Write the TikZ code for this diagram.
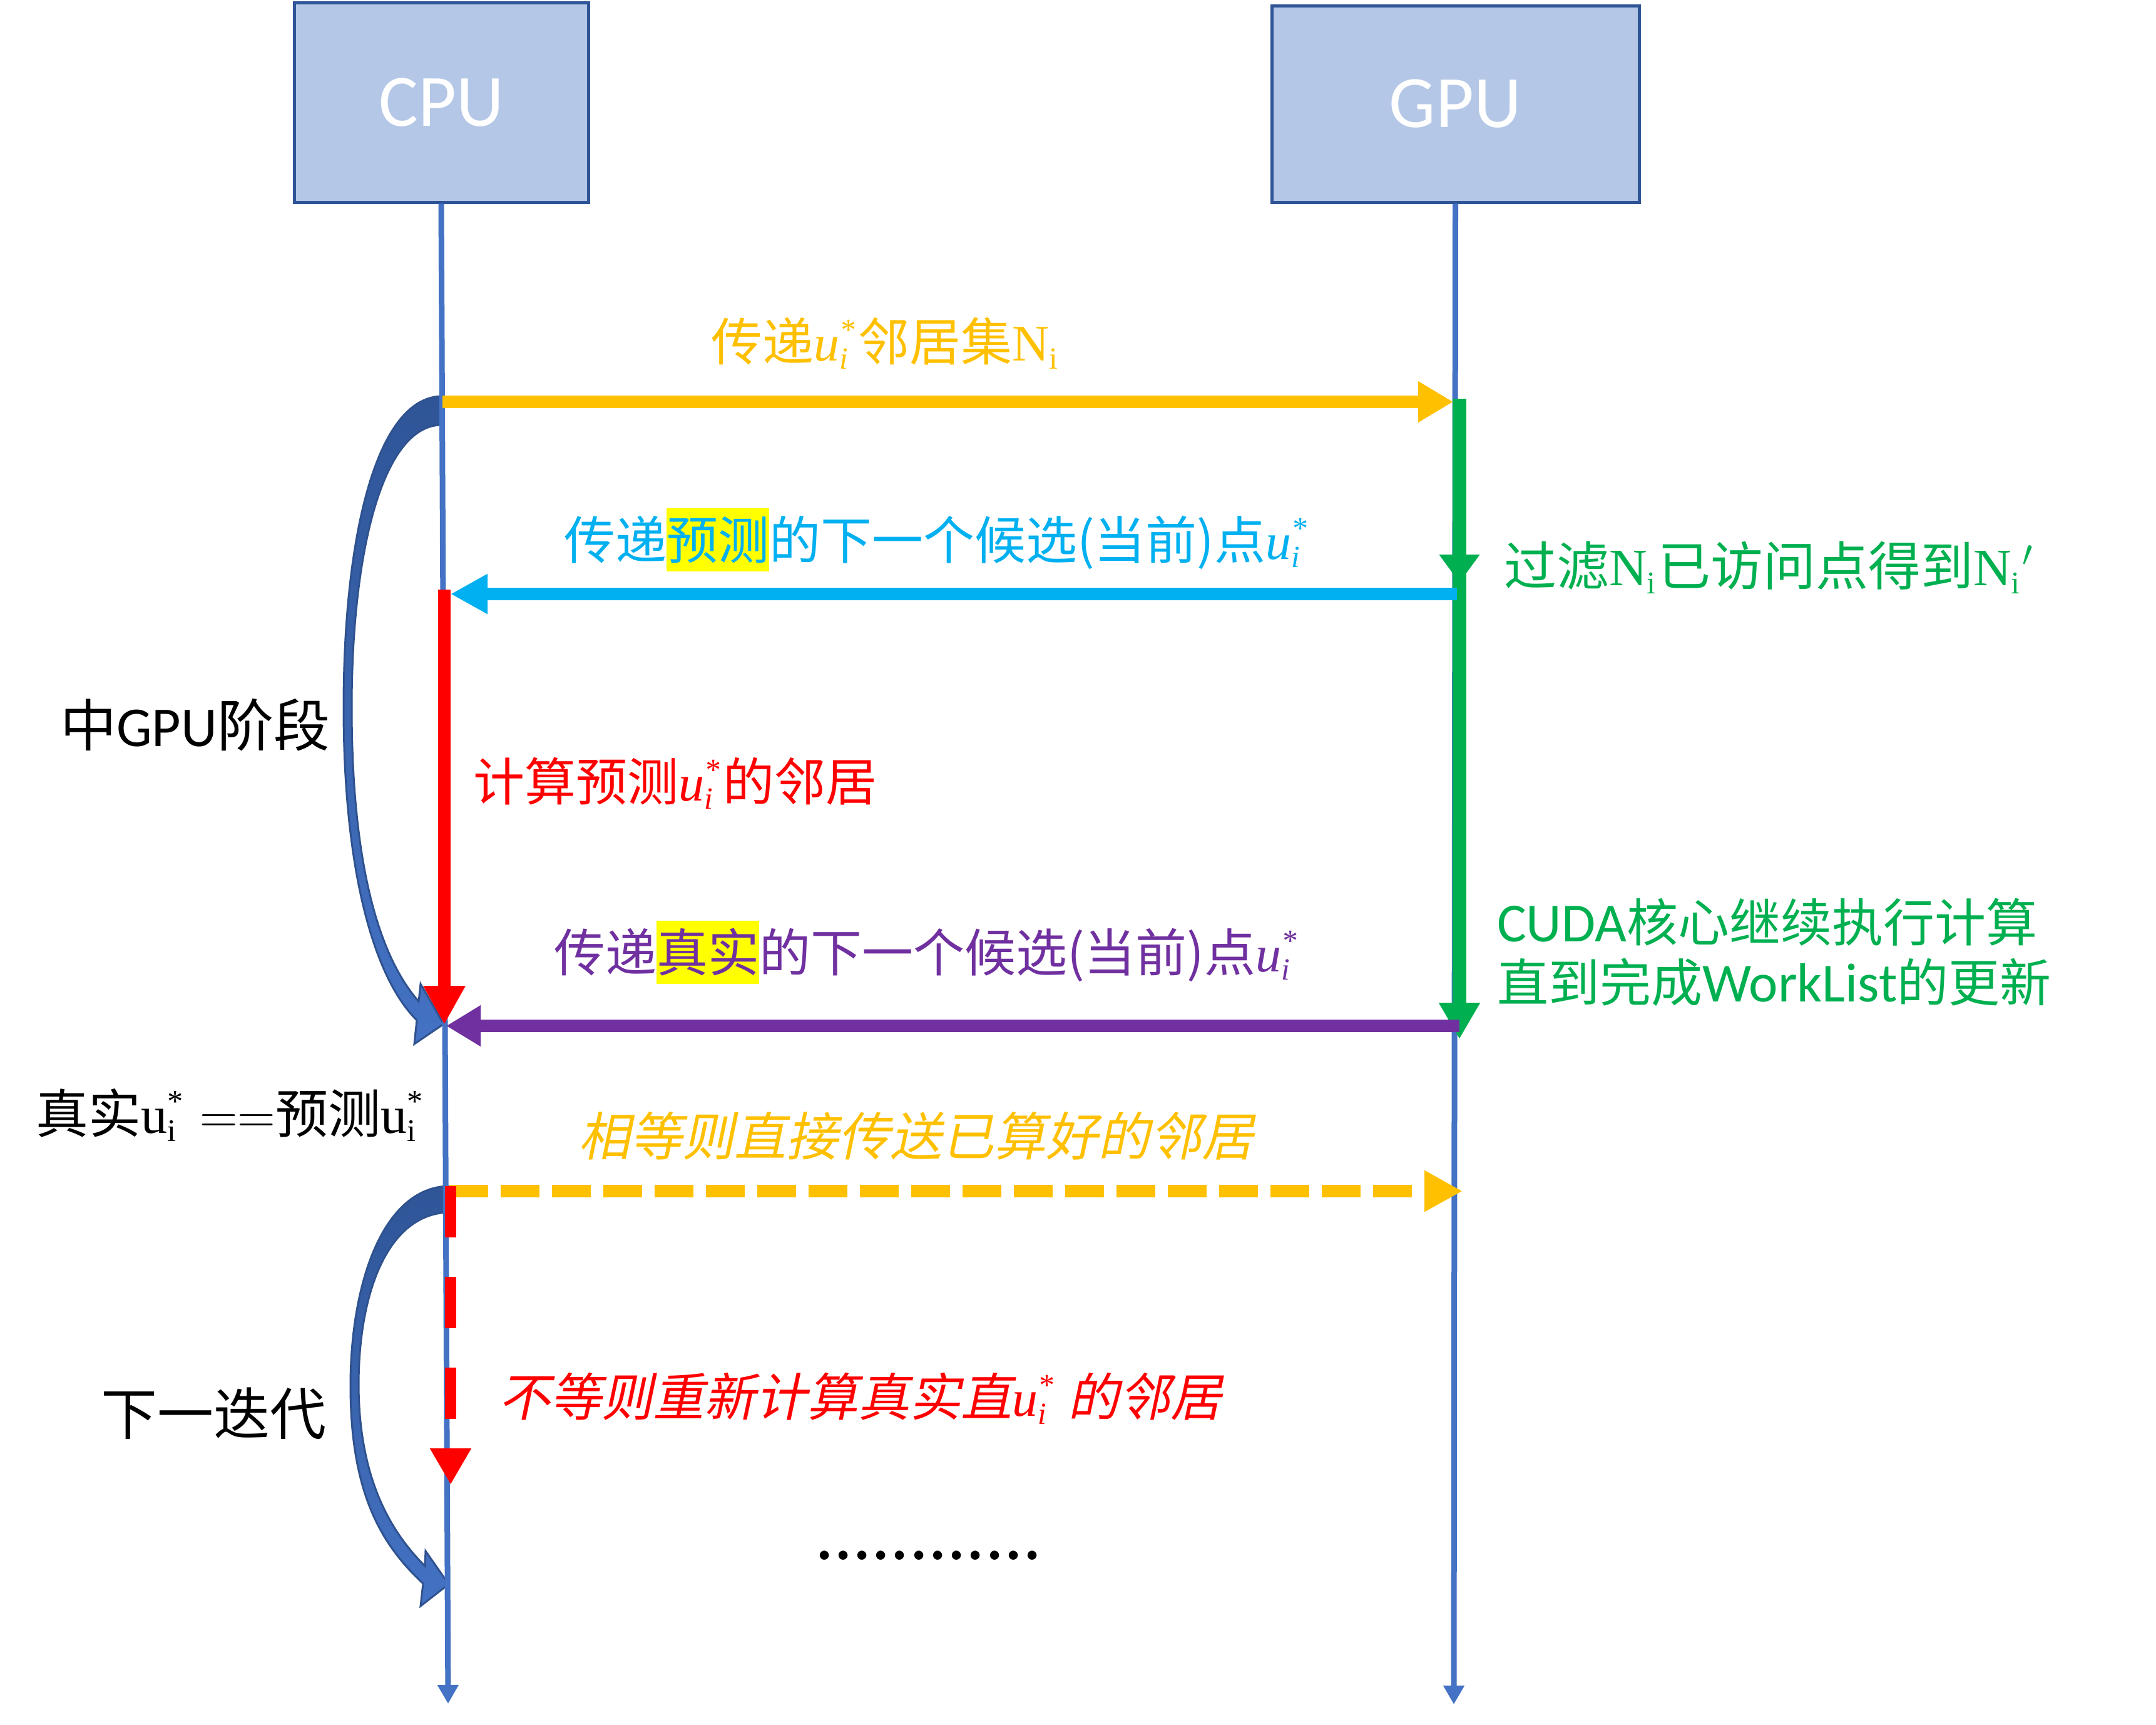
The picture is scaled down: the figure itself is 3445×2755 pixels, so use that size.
\RequirePackage{fix-cm}
\documentclass[tikz,border=0pt]{standalone}
\usepackage{fontspec}
\usetikzlibrary{arrows.meta}
\newfontfamily\cjk{Noto Sans CJK SC}
\newfontfamily\cjkit{Noto Sans CJK SC}[FakeSlant=0.21]
\newfontfamily\lat{Carlito}
\newfontfamily\lser{Liberation Serif}
\definecolor{boxfill}{HTML}{B4C7E7}
\definecolor{boxedge}{HTML}{2F5597}
\definecolor{life}{HTML}{4472C4}
\definecolor{cyel}{HTML}{FFC000}
\definecolor{ccyan}{HTML}{00B0F0}
\definecolor{cred}{HTML}{FF0000}
\definecolor{cpurp}{HTML}{7030A0}
\definecolor{cgreen}{HTML}{00B050}
\definecolor{hly}{HTML}{FFFF00}
\definecolor{bdark}{HTML}{2F5597}
\definecolor{bedge}{HTML}{2F528F}
\newcommand\fsz[1]{\fontsize{#1}{#1}\selectfont}
\newcommand\hlbox[1]{{\setlength{\fboxsep}{0pt}\colorbox{hly}{\rule[-0.24em]{0pt}{1.23em}#1}}}
% base with stacked sub- and superscript, in text fonts
\newcommand\sbsp[3]{#1\makebox[0pt][l]{\raisebox{-0.16em}{\scalebox{0.6}{#2}}}\raisebox{0.40em}{\scalebox{0.6}{#3}}\kern0.07em}
\newcommand\uis{{\lser\itshape\sbsp{u}{i}{*}}}
\newcommand\uup{{\lser\sbsp{u}{i}{*}}}
\newcommand\Ni{{\lser N\raisebox{-0.16em}{\scalebox{0.6}{i}}\kern0.04em}}
\tikzset{
  lbl/.style={inner sep=0pt, outer sep=0pt, anchor=base west},
  procbox/.style={draw=boxedge, fill=boxfill, line width=5pt, inner sep=0pt, text=white, font=\lat\fsz{118}},
  lifeline/.style={draw=life, line width=9pt, -{Triangle[length=30pt,width=32pt]}},
  msg/.style={line width=20pt},
  bendarrow/.style={top color=bdark, bottom color=life, draw=bedge, line width=3pt},
}
\begin{document}
\begin{tikzpicture}[x=1pt,y=-1pt]
\useasboundingbox (0,0) rectangle (3445,2755);
\fill[white] (0,0) rectangle (3445,2755);

% curved block arrows
\path[bendarrow] (705,633) .. controls (600,636) and (549,860) .. (549,1130)
  .. controls (549,1400) and (600,1565) .. (666,1630) -- (662,1668) -- (709,1636) -- (672,1572) -- (669,1600)
  .. controls (612,1535) and (562,1400) .. (562,1130)
  .. controls (562,880) and (612,680) .. (705,679) -- cycle;
\path[bendarrow] (716,1895) .. controls (612,1898) and (560,2050) .. (560,2214)
  .. controls (560,2390) and (612,2470) .. (676,2530) -- (672,2566) -- (717,2531) -- (680,2478) -- (679,2502)
  .. controls (622,2445) and (574,2360) .. (573,2214)
  .. controls (573,2060) and (622,1940) .. (716,1937) -- cycle;

% boxes and lifelines
\node[procbox, minimum width=470pt, minimum height=319pt] (cpu) at (705,163.5) {CPU};
\node[procbox, minimum width=587pt, minimum height=314pt] (gpu) at (2325.5,166) {GPU};
\coordinate (cpuend) at (716,2722);
\coordinate (gpuend) at (2323,2723);
\draw[lifeline] (cpu.south) -- (cpuend);
\draw[lifeline] (gpu.south) -- (gpuend);

% messages
\coordinate (c1) at (707,642); \coordinate (g1) at (2322,642);
\draw[msg, cyel, -{Triangle[length=56pt,width=62pt]}] (c1) -- (g1);
\coordinate (g1b) at (2332,637); \coordinate (gmid) at (2332,931);
\coordinate (gmidb) at (2332,900); \coordinate (g3) at (2332,1660);
\draw[cgreen, line width=22pt, -{Triangle[length=45pt,width=62pt]}] (g1b) -- (gmid);
\draw[cgreen, line width=22pt, -{Triangle[length=58pt,width=62pt]}] (gmidb) -- (g3);
\coordinate (g2) at (2328,949); \coordinate (c2) at (720,949);
\draw[msg, ccyan, -{Triangle[length=59pt,width=60pt]}] (g2) -- (c2);
\coordinate (c2r) at (710,942); \coordinate (c3) at (710,1637);
\draw[msg, cred, -{Triangle[length=62pt,width=63pt]}] (c2r) -- (c3);
\coordinate (g4) at (2332,1639); \coordinate (c3p) at (713,1639);
\draw[msg, cpurp, -{Triangle[length=55pt,width=62pt]}] (g4) -- (c3p);
\coordinate (c4) at (718,1903); \coordinate (g5) at (2337,1903);
\draw[msg, cyel, dash pattern=on 62pt off 20pt, -{Triangle[length=61pt,width=62pt]}] (c4) -- (g5);
\coordinate (c4r) at (720,1895); \coordinate (c5) at (720,2372);
\draw[line width=18pt, cred, dash pattern=on 82pt off 63pt, -{Triangle[length=58pt,width=62pt]}] (c4r) -- (c5);

% labels
\node[lbl, text=cyel, font=\cjk\fsz{82}] (t1) at (1136,576) {传递\uis 邻居集\Ni};
\node[lbl, text=ccyan, font=\cjk\fsz{82}] (t2) at (901,893) {传递\hlbox{预测}的下一个候选(当前)点\uis};
\node[lbl, text=cgreen, font=\cjk\fsz{84}] (t3) at (2403,935) {过滤\Ni 已访问点得到\Ni$^{\prime}$};
\node[lbl, text=cred, font=\cjk\fsz{82}] (t4) at (756,1279) {计算预测\uis 的邻居};
\node[lbl, font=\cjk\fsz{90}] (t5) at (96,1192) {中{\lat GPU}阶段};
\node[lbl, text=cpurp, font=\cjk\fsz{82}] (t6) at (885,1552) {传递\hlbox{真实}的下一个候选(当前)点\uis};
\node[lbl, text=cgreen, font=\cjk\fsz{82}] (t7) at (2392,1504) {{\lat\fsz{88}CUDA}核心继续执行计算};
\node[lbl, text=cgreen, font=\cjk\fsz{82}] (t8) at (2392,1600) {直到完成{\lat\fsz{88}WorkList}的更新};
\node[lbl, font=\cjk\fsz{84}] (t9) at (57,1810) {真实\uup{\lser\ }$==$预测\uup};
\node[lbl, text=cyel, font=\cjkit\fsz{83}] (t10) at (924,1846) {相等则直接传送已算好的邻居};
\node[lbl, text=cred, font=\cjkit\fsz{82}] (t11) at (797,2262) {不等则重新计算真实直\uis\ 的邻居};
\node[lbl, font=\cjk\fsz{90}] (t12) at (161,2292) {下一迭代};
\node[lbl, font=\lat\fsz{120}] (t13) at (1302,2491) {............};
\end{tikzpicture}
\end{document}
